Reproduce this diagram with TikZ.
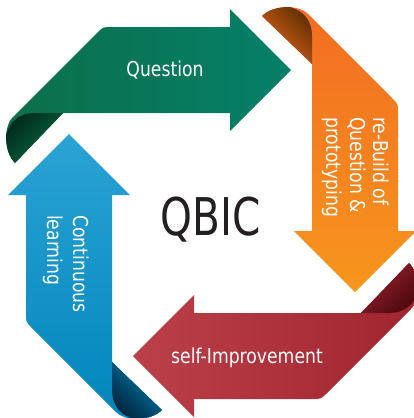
\documentclass[tikz,border=0pt]{standalone}
\usepackage{fontspec}
\newfontfamily\labfont[FakeStretch=0.84]{DejaVu Sans}
\newfontfamily\qbicfont[FakeStretch=0.78]{DejaVu Sans}
\definecolor{gL}{HTML}{0B6F47}
\definecolor{gR}{HTML}{057F6A}
\definecolor{gD}{HTML}{00291A}
\definecolor{oT}{HTML}{F26C22}
\definecolor{oB}{HTML}{F7961D}
\definecolor{oD}{HTML}{5E2E00}
\definecolor{rL}{HTML}{BC404A}
\definecolor{rR}{HTML}{A0242E}
\definecolor{rD}{HTML}{4A080E}
\definecolor{bT}{HTML}{2BA3D4}
\definecolor{bB}{HTML}{0085BC}
\definecolor{bD}{HTML}{00243A}
\definecolor{qb}{HTML}{231F20}
\def\mainpath{(63,113) -- (15,163) .. controls (4,152) and (3,127) .. (13,117) -- (97,33) .. controls (103,27) .. (111,27) -- (230,27) -- (230,9) -- (291,70) -- (230,131) -- (230,113) -- cycle}
\def\foldpath{(63,113) -- (35,113) .. controls (20,113) and (10,121) .. (6,135) -- (2,170) -- (15,163) -- cycle}
\newcommand{\ribbon}[3]{%
  \begin{scope}[rotate around={#1:(212,213)}]
    \shade[#2] \mainpath;
    \begin{scope}
      \clip \mainpath;
      \shade[#3] \foldpath;
    \end{scope}
  \end{scope}}
\tikzset{lab/.style={text=white, inner sep=0pt, font=\labfont\fontsize{20.5}{24}\selectfont}}
\begin{document}
\begin{tikzpicture}[x=1pt, y=-1pt]
\useasboundingbox (0,0) rectangle (413,418);
\fill[white] (0,0) rectangle (413,418);
% green (top)
\ribbon{0}{left color=gL, right color=gR}{top color=gD, bottom color=gL, shading angle=45}
% orange (right)
\ribbon{-90}{top color=oT, bottom color=oB}{top color=oD, bottom color=oT, shading angle=-45}
% red (bottom)
\ribbon{-180}{left color=rL, right color=rR}{top color=rD, bottom color=rR, shading angle=-135}
% blue (left)
\ribbon{90}{top color=bT, bottom color=bB}{top color=bD, bottom color=bB, shading angle=135}
% labels
\node[lab, anchor=base] (q) at (165,76) {Question};
\node[lab, anchor=base west, rotate=-90] (o1) at (373,117) {re-Build of};
\node[lab, anchor=base west, rotate=-90] (o2) at (350,117) {Question \&};
\node[lab, anchor=base west, rotate=-90] (o3) at (326,117) {prototyping};
\node[lab, anchor=base] (s) at (247,363) {self-Improvement};
\node[lab, anchor=base west, rotate=-90] (c1) at (73,215) {Continuous};
\node[lab, anchor=base west, rotate=-90] (c2) at (47,215) {learning};
\node[anchor=base, text=qb, inner sep=0pt, font=\qbicfont\fontsize{52}{52}\selectfont] (qbic) at (210.5,235) {QBIC};
\end{tikzpicture}
\end{document}
